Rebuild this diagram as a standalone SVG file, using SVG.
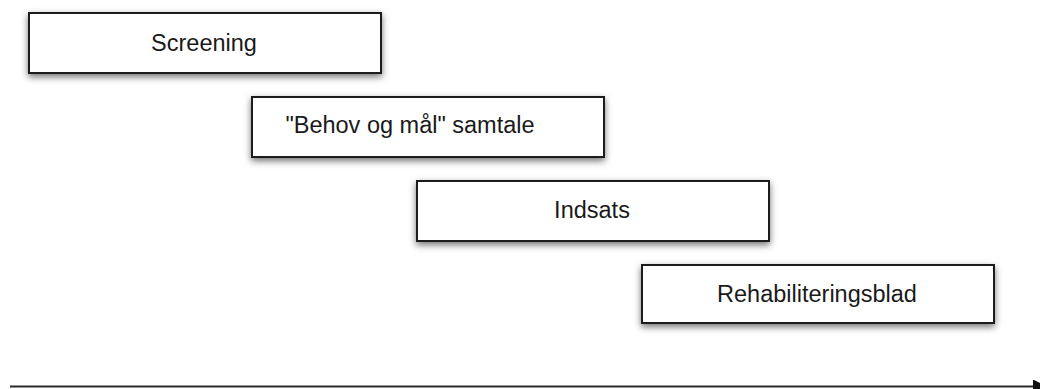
<svg xmlns="http://www.w3.org/2000/svg" width="1040" height="389" viewBox="0 0 1040 389">
  <defs>
    <filter id="shadow" x="-10%" y="-30%" width="120%" height="170%">
      <feDropShadow dx="0" dy="3" stdDeviation="3.5" flood-color="#000" flood-opacity="0.55"/>
    </filter>
    <marker id="arrowhead" markerWidth="14" markerHeight="14" refX="0" refY="7" orient="auto" markerUnits="userSpaceOnUse">
      <path d="M0,0 L14,7 L0,14 Z" fill="#111"/>
    </marker>
  </defs>
  <style>
    .box { fill: #fff; stroke: #1c1c1c; stroke-width: 2; filter: url(#shadow); }
    .label { font-family: "Liberation Sans", Arial, sans-serif; font-size: 23.5px; fill: #1a1a1a; text-anchor: middle; }
    .axis { stroke: #2a2a2a; stroke-width: 2; fill: none; }
  </style>
  <rect width="1040" height="389" fill="#fff"/>

  <g id="screening">
    <rect class="box" x="29" y="13" width="352" height="60"/>
    <text class="label" x="204" y="51">Screening</text>
  </g>
  <g id="behov-og-maal">
    <rect class="box" x="252" y="97" width="352" height="60"/>
    <text class="label" x="410" y="133">"Behov og mål" samtale</text>
  </g>
  <g id="indsats">
    <rect class="box" x="417" y="181" width="352" height="60"/>
    <text class="label" x="592" y="218">Indsats</text>
  </g>
  <g id="rehabiliteringsblad">
    <rect class="box" x="642" y="265" width="352" height="58"/>
    <text class="label" x="817" y="302">Rehabiliteringsblad</text>
  </g>

  <g id="connectors">
    <line class="axis" x1="10" y1="386.5" x2="1033" y2="386.5" marker-end="url(#arrowhead)"/>
  </g>
</svg>
